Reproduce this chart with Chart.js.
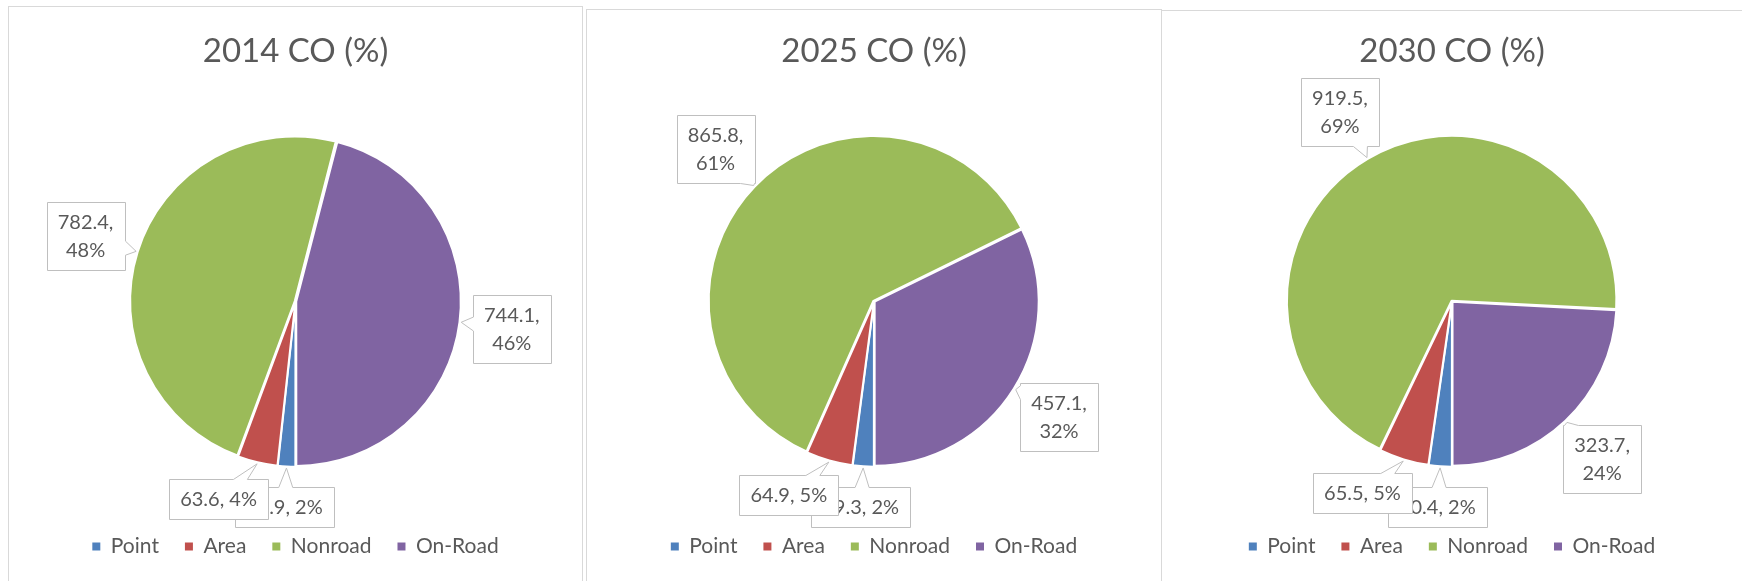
<!DOCTYPE html>
<html>
<head>
<meta charset="utf-8">
<script src="https://cdn.jsdelivr.net/npm/chart.js@4.4.0/dist/chart.umd.min.js"></script>
<style>
  body { margin: 0; background: #fff; width: 1742px; height: 581px; overflow: hidden; position: relative; }
  .panel { position: absolute; border: 1px solid #d9d9d9; box-sizing: border-box; height: 700px; }
  .chart { position: absolute; top: 7px; height: 574px; }
</style>
</head>
<body>
<div class="panel" style="left:8px;top:6px;width:575px"></div>
<div class="panel" style="left:586px;top:9px;width:576px"></div>
<div class="panel" style="left:1161px;top:10px;width:600px"></div>
<div class="chart" style="left:9px;width:573px"><canvas id="chart2014"></canvas></div>
<div class="chart" style="left:587px;width:574px"><canvas id="chart2025"></canvas></div>
<div class="chart" style="left:1162px;width:580px"><canvas id="chart2030"></canvas></div>
<script>
// CO emissions by source (value, share shown in labels)
const categories = ['Point', 'Area', 'Nonroad', 'On-Road'];
const years = ['2014', '2025', '2030'];
const co2014 = [27.9, 63.6, 782.4, 744.1];
const co2025 = [29.3, 64.9, 865.8, 457.1];
const co2030 = [30.4, 65.5, 919.5, 323.7];

const colors = ['#4f81bd', '#c0504d', '#9bbb59', '#8064a2'];
const labelGaps = [42, 48, 56, 54];   // distance of label box centre beyond the rim
const labelNudges = [0, 8, 0, 0];     // degrees

function calloutPath(ctx, L, T, R, B, ax, ay, half) {
  const cx = (L + R) / 2, cy = (T + B) / 2, dx = ax - cx, dy = ay - cy;
  let side = null;
  if (!(ax >= L && ax <= R && ay >= T && ay <= B)) {
    if (Math.abs(dx) * (B - T) > Math.abs(dy) * (R - L)) side = dx > 0 ? 'right' : 'left';
    else side = dy > 0 ? 'bottom' : 'top';
  }
  let px = 0, py = 0;
  if (side === 'top' || side === 'bottom') {
    px = cx + dx * ((B - T) / 2) / Math.abs(dy);
    px = Math.max(L + half + 1, Math.min(R - half - 1, px));
  } else if (side) {
    py = cy + dy * ((R - L) / 2) / Math.abs(dx);
    py = Math.max(T + half + 1, Math.min(B - half - 1, py));
  }
  ctx.beginPath();
  ctx.moveTo(L, T);
  if (side === 'top') { ctx.lineTo(px - half, T); ctx.lineTo(ax, ay); ctx.lineTo(px + half, T); }
  ctx.lineTo(R, T);
  if (side === 'right') { ctx.lineTo(R, py - half); ctx.lineTo(ax, ay); ctx.lineTo(R, py + half); }
  ctx.lineTo(R, B);
  if (side === 'bottom') { ctx.lineTo(px + half, B); ctx.lineTo(ax, ay); ctx.lineTo(px - half, B); }
  ctx.lineTo(L, B);
  if (side === 'left') { ctx.lineTo(L, py + half); ctx.lineTo(ax, ay); ctx.lineTo(L, py - half); }
  ctx.closePath();
}

const calloutPlugin = {
  id: 'callouts',
  afterDatasetsDraw(chart) {
    const ctx = chart.ctx;
    const meta = chart.getDatasetMeta(0);
    const values = chart.data.datasets[0].data;
    const total = values.reduce((a, b) => a + b, 0);
    ctx.save();
    ctx.font = '20px Lato';
    meta.data.forEach((arc, i) => {
      const p = arc.getProps(['x', 'y', 'startAngle', 'endAngle', 'outerRadius'], true);
      const off = arc.options.offset || 0;
      const mid = (p.startAngle + p.endAngle) / 2;
      const ax = p.x + Math.cos(mid) * (p.outerRadius + off);
      const ay = p.y + Math.sin(mid) * (p.outerRadius + off);
      const la = mid + labelNudges[i] * Math.PI / 180;
      const d = p.outerRadius + labelGaps[i];
      const cx = p.x + Math.cos(la) * d;
      const cy = p.y + Math.sin(la) * d;
      const share = values[i] / total;
      const pct = Math.round(share * 100) + '%';
      const lines = share > 0.1 ? [values[i].toFixed(1) + ',', pct] : [values[i].toFixed(1) + ', ' + pct];
      const w = Math.max(...lines.map(t => ctx.measureText(t).width)) + 22;
      const h = lines.length * 28 + 12;
      const L = Math.round(cx - w / 2) + 0.5, T = Math.round(cy - h / 2) + 0.5;
      calloutPath(ctx, L, T, L + Math.round(w), T + Math.round(h), ax, ay, 7);
      ctx.fillStyle = '#fff';
      ctx.fill();
      ctx.strokeStyle = '#bfbfbf';
      ctx.lineWidth = 1;
      ctx.stroke();
      ctx.fillStyle = '#595959';
      ctx.textAlign = 'center';
      ctx.textBaseline = 'middle';
      lines.forEach((t, k) => ctx.fillText(t, cx, T + 6 + 14 + k * 28));
    });
    ctx.restore();
  }
};

function makePie(id, year, values) {
  return new Chart(document.getElementById(id), {
    type: 'pie',
    data: {
      labels: categories,
      datasets: [{
        data: values,
        backgroundColor: colors,
        borderColor: '#ffffff',
        borderWidth: 2,
        offset: 3
      }]
    },
    options: {
      responsive: true,
      maintainAspectRatio: false,
      animation: false,
      rotation: 180,
      radius: 164,
      layout: { padding: { bottom: 14 } },
      plugins: {
        title: {
          display: true,
          text: year + ' CO (%)',
          color: '#595959',
          font: { family: 'Lato', size: 33, weight: 'normal' },
          padding: { top: 25, bottom: 21 }
        },
        legend: {
          position: 'bottom',
          labels: {
            boxWidth: 8,
            boxHeight: 8,
            padding: 26,
            color: '#595959',
            font: { family: 'Lato', size: 21 },
            generateLabels: c => Chart.overrides.pie.plugins.legend.labels.generateLabels(c)
              .map(l => Object.assign(l, { lineWidth: 0, strokeStyle: l.fillStyle }))
          }
        },
        tooltip: { enabled: false }
      }
    },
    plugins: [calloutPlugin]
  });
}

makePie('chart2014', years[0], co2014);
makePie('chart2025', years[1], co2025);
makePie('chart2030', years[2], co2030);
</script>
</body>
</html>
